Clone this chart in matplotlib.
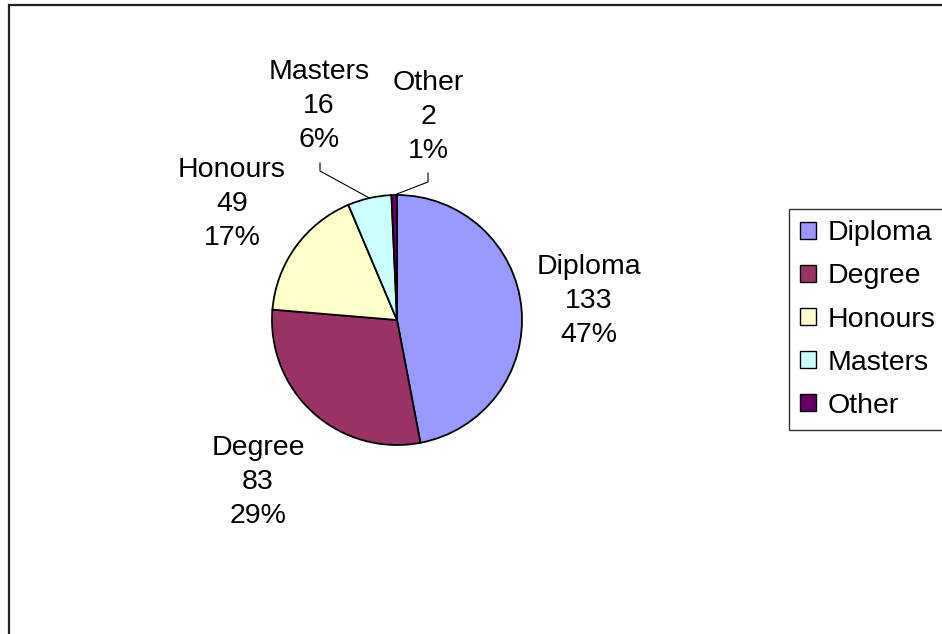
import matplotlib
matplotlib.use("Agg")
import matplotlib.pyplot as plt
from matplotlib.patches import Rectangle, Patch
import numpy as np

categories = ["Diploma", "Degree", "Honours", "Masters", "Other"]
values = [133, 83, 49, 16, 2]
percents = ["47%", "29%", "17%", "6%", "1%"]
colors = ["#9999FF", "#993366", "#FFFFCC", "#CCFFFF", "#660066"]

plt.rcParams['font.family'] = ['Liberation Sans', 'DejaVu Sans']

W, H = 942, 634
fig = plt.figure(figsize=(W / 100, H / 100), dpi=100)

# outer chart frame
fig.patches.append(Rectangle((9 / W, -0.05), 1.2, 1 - 5 / H + 0.05, transform=fig.transFigure,
                             fill=False, edgecolor="#222222", linewidth=1.6))

cx, cy, r = 397, 320, 125
ax = fig.add_axes([(cx - r) / W, (H - cy - r) / H, 2 * r / W, 2 * r / H])

wedges, _ = ax.pie(values, colors=colors, startangle=90, counterclock=False, radius=1,
                   wedgeprops=dict(edgecolor="black", linewidth=1.3))
ax.set_xlim(-1, 1)
ax.set_ylim(-1, 1)
ax.axis("off")

# label positions (in radii, relative to centre) per slice
label_pos = {
    "Diploma": (1.536, 0.152),
    "Degree": (-1.112, -1.296),
    "Honours": (-1.32, 0.928),
    "Masters": (-0.624, 1.712),
    "Other": (0.248, 1.624),
}
fs = 20.5
for w, cat, v, p in zip(wedges, categories, values, percents):
    x, y = label_pos[cat]
    ax.text(x, y, f"{cat}\n{v}\n{p}", ha="center", va="center", fontsize=fs,
            linespacing=1.38, clip_on=False)

# leader lines for small slices
def edge_point(w):
    ang = np.deg2rad((w.theta1 + w.theta2) / 2)
    return np.cos(ang), np.sin(ang)

ex, ey = edge_point(wedges[3])
ax.plot([-0.616, -0.616, ex], [1.256, 1.192, ey], color="black", lw=0.8, clip_on=False)
ex, ey = edge_point(wedges[4])
ax.plot([0.248, 0.248, ex], [1.176, 1.104, ey], color="black", lw=0.8, clip_on=False)

handles = [Patch(facecolor=c, edgecolor="black", linewidth=1.0) for c in colors]
leg = fig.legend(handles, categories, loc="upper left",
                 bbox_to_anchor=(789 / W, 1 - 209 / H), fontsize=fs,
                 frameon=True, fancybox=False, edgecolor="black",
                 handlelength=0.56, handleheight=0.56, handletextpad=0.39,
                 labelspacing=0.6, borderpad=0.4, borderaxespad=0)
leg.get_frame().set_linewidth(1.0)

fig.savefig("out.png", dpi=100)
